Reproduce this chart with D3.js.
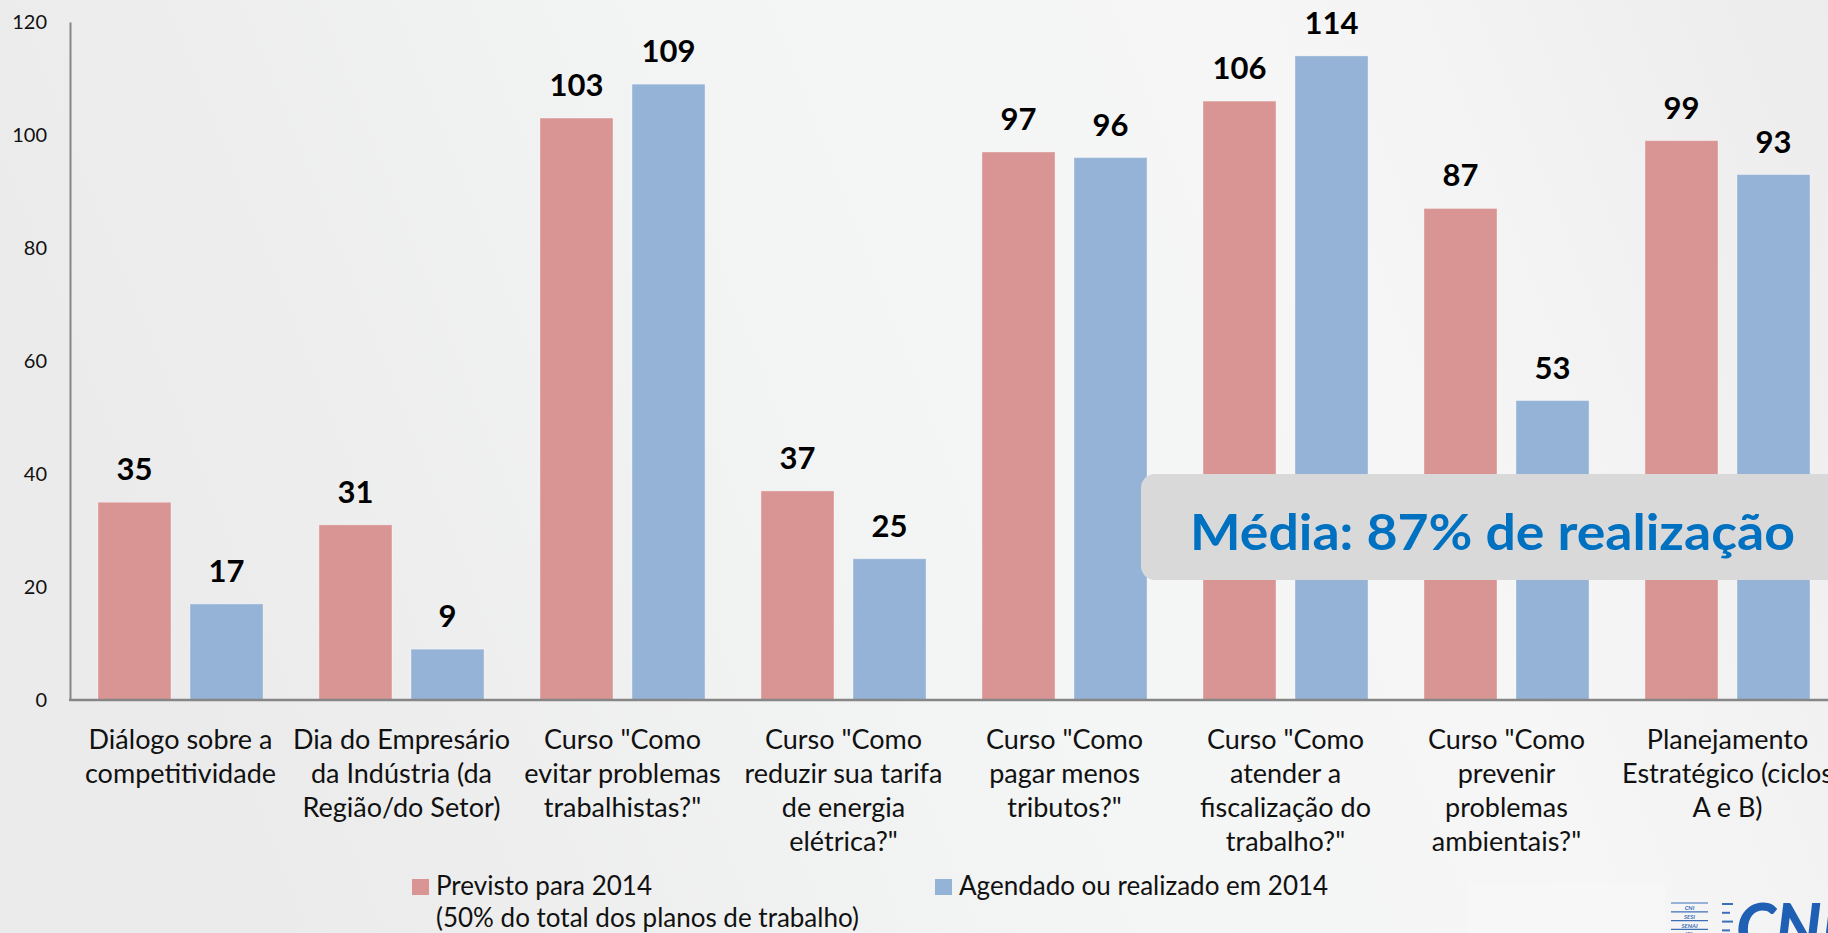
<!DOCTYPE html>
<html>
<head>
<meta charset="utf-8">
<script src="https://cdn.jsdelivr.net/npm/d3@7"></script>
<style>
  html, body { margin: 0; padding: 0; overflow: hidden; background: #efefef; }
  text { font-family: Lato, "Noto Sans", sans-serif; }
</style>
</head>
<body>
<div id="dataviz"></div>
<script>
// data
var categories = [
    "Diálogo sobre a\ncompetitividade",
    "Dia do Empresário\nda Indústria (da\nRegião/do Setor)",
    "Curso \"Como\nevitar problemas\ntrabalhistas?\"",
    "Curso \"Como\nreduzir sua tarifa\nde energia\nelétrica?\"",
    "Curso \"Como\npagar menos\ntributos?\"",
    "Curso \"Como\natender a\nfiscalização do\ntrabalho?\"",
    "Curso \"Como\nprevenir\nproblemas\nambientais?\"",
    "Planejamento\nEstratégico (ciclos\nA e B)"
];
var previsto = [35, 31, 103, 37, 97, 106, 87, 99];
var agendado = [17, 9, 109, 25, 96, 114, 53, 93];
var seriesNames = ["Previsto para 2014\n(50% do total dos planos de trabalho)", "Agendado ou realizado em 2014"];
var seriesColors = ["#d99594", "#95b3d7"];
var yTicks = [0, 20, 40, 60, 80, 100, 120];
var note = "Média: 87% de realização";

var widthFull = 1828;
var heightFull = 933;

var svg = d3.select("#dataviz").append("svg")
    .attr("width", widthFull)
    .attr("height", heightFull)
    .style("display", "block");

// background gradient
var defs = svg.append("defs");
var grad = defs.append("linearGradient")
    .attr("id", "bg")
    .attr("x1", "0").attr("y1", "0.2")
    .attr("x2", "1").attr("y2", "0");
grad.append("stop").attr("offset", "0").attr("stop-color", "#ebebeb");
grad.append("stop").attr("offset", "0.45").attr("stop-color", "#f4f5f5");
grad.append("stop").attr("offset", "0.7").attr("stop-color", "#f6f6f6");
grad.append("stop").attr("offset", "1").attr("stop-color", "#ececec");

svg.append("rect")
    .attr("width", widthFull).attr("height", heightFull)
    .attr("fill", "url(#bg)");

// scales (the last group runs past the right edge, as in the slide)
var x0 = d3.scaleBand().domain(d3.range(categories.length)).range([70, 70 + 221 * categories.length]);
var x1 = d3.scaleBand().domain([0, 1]).range([0, x0.bandwidth()]).paddingInner(0.2065).paddingOuter(0.304);
var y = d3.scaleLinear().domain([0, 120]).range([700, 22]);

// bars
var groups = svg.append("g").selectAll("g")
    .data(categories.map(function(c, i) { return { i: i, vals: [previsto[i], agendado[i]] }; }))
    .enter().append("g")
    .attr("transform", function(d) { return "translate(" + x0(d.i) + ",0)"; });

groups.selectAll("rect")
    .data(function(d) { return d.vals.map(function(v, k) { return { k: k, v: v }; }); })
    .enter().append("rect")
    .attr("x", function(d) { return x1(d.k); })
    .attr("y", function(d) { return y(d.v); })
    .attr("width", x1.bandwidth())
    .attr("height", function(d) { return y(0) - y(d.v); })
    .attr("fill", function(d) { return seriesColors[d.k]; })
    .attr("stroke", "rgba(255,255,255,0.35)")
    .attr("stroke-width", 1);

// value labels
groups.selectAll("text.val")
    .data(function(d) { return d.vals.map(function(v, k) { return { k: k, v: v }; }); })
    .enter().append("text")
    .attr("class", "val")
    .attr("x", function(d) { return x1(d.k) + x1.bandwidth() / 2; })
    .attr("y", function(d) { return y(d.v) - 22; })
    .attr("text-anchor", "middle")
    .style("font-size", "31px")
    .style("font-weight", "bold")
    .attr("fill", "#000")
    .text(function(d) { return d.v; });

// y axis
var yAxis = svg.append("g")
    .attr("transform", "translate(70,0)")
    .call(d3.axisLeft(y).tickValues(yTicks).tickSize(0).tickPadding(23));
yAxis.select(".domain").attr("stroke", "#868686").attr("stroke-width", 2);
yAxis.selectAll("text")
    .style("font-size", "20px")
    .style("font-family", "Lato, sans-serif")
    .attr("fill", "#111");

// x axis line
svg.append("line")
    .attr("x1", 69).attr("x2", widthFull)
    .attr("y1", y(0)).attr("y2", y(0))
    .attr("stroke", "#868686").attr("stroke-width", 2.5);

// category labels
var catLabels = svg.append("g").selectAll("text")
    .data(categories)
    .enter().append("text")
    .attr("text-anchor", "middle")
    .attr("x", function(d, i) { return x0(i) + x0.bandwidth() / 2; })
    .attr("y", 749)
    .style("font-size", "27px")
    .attr("fill", "#111");
catLabels.selectAll("tspan")
    .data(function(d) { return d.split("\n"); })
    .enter().append("tspan")
    .attr("x", function() { return d3.select(this.parentNode).attr("x"); })
    .attr("dy", function(d, i) { return i === 0 ? 0 : 34; })
    .text(function(d) { return d; });

// legend
var legendX = [412, 935];
var legend = svg.append("g").selectAll("g")
    .data(seriesNames)
    .enter().append("g")
    .attr("transform", function(d, i) { return "translate(" + legendX[i] + ",879)"; });
legend.append("rect")
    .attr("width", 17).attr("height", 16)
    .attr("fill", function(d, i) { return seriesColors[i]; });
var legendText = legend.append("text")
    .attr("x", 24).attr("y", 16)
    .style("font-size", "26px")
    .attr("fill", "#111");
legendText.selectAll("tspan")
    .data(function(d) { return d.split("\n"); })
    .enter().append("tspan")
    .attr("x", 24)
    .attr("dy", function(d, i) { return i === 0 ? 0 : 32; })
    .text(function(d) { return d; });

// highlight box
svg.append("rect")
    .attr("x", 1141).attr("y", 474)
    .attr("width", 760).attr("height", 106)
    .attr("rx", 14)
    .attr("fill", "#d9d9d9");
svg.append("text")
    .attr("x", 1190).attr("y", 550)
    .attr("textLength", 605)
    .attr("lengthAdjust", "spacingAndGlyphs")
    .style("font-size", "49px")
    .style("font-weight", "bold")
    .attr("fill", "#0070c0")
    .text(note);

// logo in the corner
svg.append("rect")
    .attr("x", 1468).attr("y", 883)
    .attr("width", 197).attr("height", 50)
    .attr("fill", "#ffffff").attr("opacity", 0.2);
var logo = svg.append("g").attr("transform", "translate(1671,903)");
var logoRows = ["CNI", "SESI", "SENAI", "IEL"];
logoRows.forEach(function(t, i) {
    logo.append("line")
        .attr("x1", 0).attr("x2", 37)
        .attr("y1", i * 8.8).attr("y2", i * 8.8)
        .attr("stroke", "#3d6fb8").attr("stroke-width", 1.2);
    logo.append("text")
        .attr("x", 18.5).attr("y", i * 8.8 + 7)
        .attr("text-anchor", "middle")
        .style("font-size", "6px")
        .style("font-weight", "bold")
        .style("font-style", "italic")
        .attr("fill", "#3d6fb8")
        .text(t);
});
[0, 1, 2, 3].forEach(function(i) {
    logo.append("line")
        .attr("x1", 51).attr("x2", i % 2 ? 59 : 62)
        .attr("y1", 1 + i * 8.8).attr("y2", 1 + i * 8.8)
        .attr("stroke", "#3d6fb8").attr("stroke-width", 2);
});
svg.append("text")
    .attr("x", 1736).attr("y", 950)
    .style("font-size", "64px")
    .style("font-weight", "900")
    .style("font-style", "italic")
    .attr("fill", "#1f5fb4")
    .text("CNI");
</script>
</body>
</html>
